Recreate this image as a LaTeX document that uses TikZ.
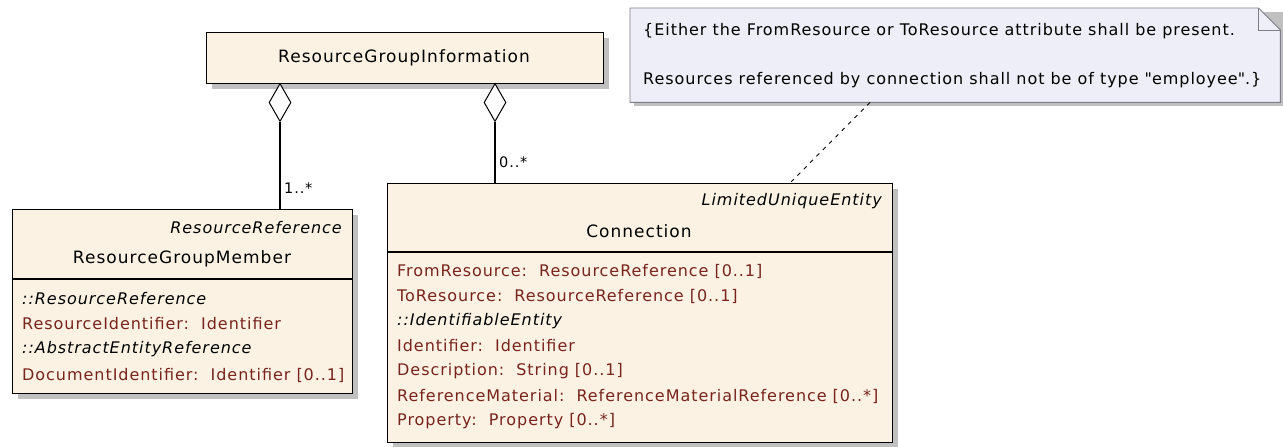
\documentclass[tikz,border=0pt]{standalone}
\usepackage{fontspec}
\setmainfont{DejaVu Sans}[LetterSpace=6]
\newfontfamily\quotefont{DejaVu Sans}[LetterSpace=6]
\usetikzlibrary{shapes.geometric,shadows}
\definecolor{classfill}{RGB}{252,242,228}
\definecolor{notefill}{RGB}{238,238,248}
\definecolor{attrcol}{RGB}{118,36,28}
\definecolor{shadowgrey}{RGB}{192,192,192}
\definecolor{noteline}{RGB}{125,125,140}
\newcommand{\dq}{{\quotefont\symbol{34}}}
\tikzset{
  classbox/.style={draw, line width=1.3pt, fill=classfill, anchor=north west, inner sep=0pt,
    drop shadow={shadow xshift=5pt, shadow yshift=-5pt, fill=shadowgrey, opacity=1}},
  classname/.style={font=\fontsize{17}{20}\selectfont, inner sep=0pt},
  stereo/.style={font=\fontsize{16}{19}\selectfont\itshape, inner sep=0pt, anchor=east},
  attr/.style={font=\fontsize{16}{19}\selectfont, text=attrcol, inner sep=0pt, anchor=west},
  inh/.style={font=\fontsize{16}{19}\selectfont\itshape, inner sep=0pt, anchor=west},
  mult/.style={font=\fontsize{14.5}{17}\selectfont, inner sep=0pt, anchor=west},
  aggr/.style={diamond, draw, line width=1pt, fill=white, inner sep=0pt, anchor=north,
    minimum width=22pt, minimum height=38pt},
  assoc/.style={line width=1.1pt},
  notetext/.style={font=\fontsize{16}{19}\selectfont, inner sep=0pt, anchor=west}
}
\begin{document}
\begin{tikzpicture}[x=1pt,y=-1pt]
\useasboundingbox (0,0) rectangle (1283,447);
% the owning class
\node[classbox, minimum width=397pt, minimum height=51pt] (rgi) at (206,32) {};
\node[classname] (rginame) at (404,58) {ResourceGroupInformation};
% ResourceGroupMember
\node[classbox, minimum width=340pt, minimum height=184pt] (rgm) at (12,209) {};
\draw[line width=1.3pt] ([yshift=-70pt]rgm.north west) -- ([yshift=-70pt]rgm.north east);
\node[stereo] (rgmst) at (342,228) {ResourceReference};
\node[classname] (rgmname) at (182,259) {ResourceGroupMember};
\node[inh] (rgma1) at (22,299) {::ResourceReference};
\node[attr] (rgma2) at (22,324) {ResourceIdentifier:\ \ Identifier};
\node[inh] (rgma3) at (22,349) {::AbstractEntityReference};
\node[attr] (rgma4) at (22,375) {DocumentIdentifier:\ \ Identifier [0..1]};
% Connection
\node[classbox, minimum width=505pt, minimum height=259pt] (conn) at (387,183) {};
\draw[line width=1.3pt] ([yshift=-69pt]conn.north west) -- ([yshift=-69pt]conn.north east);
\node[stereo] (connst) at (882,201) {LimitedUniqueEntity};
\node[classname] (connname) at (639,231) {Connection};
\node[attr] (conna1) at (397,271) {FromResource:\ \ ResourceReference [0..1]};
\node[attr] (conna2) at (397,296) {ToResource:\ \ ResourceReference [0..1]};
\node[inh] (conna3) at (397,321) {::IdentifiableEntity};
\node[attr] (conna4) at (397,346) {Identifier:\ \ Identifier};
\node[attr] (conna5) at (397,371) {Description:\ \ String [0..1]};
\node[attr] (conna6) at (397,396) {ReferenceMaterial:\ \ ReferenceMaterialReference [0..*]};
\node[attr] (conna7) at (397,421) {Property:\ \ Property [0..*]};
% aggregations
\node[aggr] (dl) at (280,83) {};
\node[aggr] (dr) at (495,83) {};
\draw[assoc] (dl.south) -- (dl.south |- rgm.north);
\draw[assoc] (dr.south) -- (dr.south |- conn.north);
\node[mult] (ml) at (284,188) {1..*};
\node[mult] (mr) at (499,162) {0..*};
% constraint note
\node[anchor=north west, minimum width=650pt, minimum height=94pt, inner sep=0pt] (note) at (630,8) {};
\fill[shadowgrey] (634,12) -- (1284,12) -- (1284,106) -- (634,106) -- cycle;
\filldraw[fill=notefill, draw=noteline, line width=0.9pt] (note.north west) -- ([xshift=-22pt]note.north east)
  -- ([yshift=-22pt]note.north east) -- (note.south east) -- (note.south west) -- cycle;
\draw[noteline, line width=0.9pt] ([xshift=-22pt]note.north east) -- ([xshift=-22pt,yshift=-22pt]note.north east)
  -- ([yshift=-22pt]note.north east);
\node[notetext] (nt1) at (643,31) {\{Either the FromResource or ToResource attribute shall be present.};
\node[notetext] (nt2) at (643,80) {Resources referenced by connection shall not be of type \dq employee\dq.\}};
\draw[dash pattern=on 4pt off 5pt, line width=0.9pt] ([xshift=240pt]note.south west) -- ([xshift=403pt]conn.north west);
\end{tikzpicture}
\end{document}
